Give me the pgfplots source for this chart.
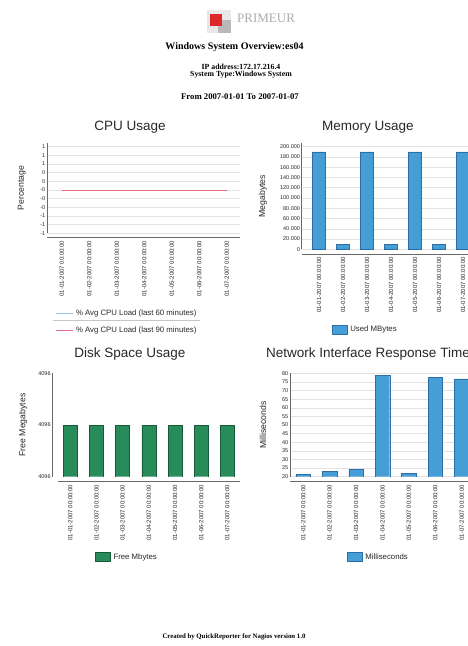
\documentclass[border=0pt]{standalone}
\usepackage{pgfplots}
\pgfplotsset{compat=1.18}
\usepackage{fontspec}
\setmainfont{Liberation Serif}
\newfontfamily\arial{Liberation Sans}
\newcommand{\fs}[1]{\fontsize{#1bp}{#1bp}\selectfont}
\definecolor{barblue}{RGB}{70,158,214}
\definecolor{barblueedge}{RGB}{45,110,165}
\definecolor{bargreen}{RGB}{40,140,90}
\definecolor{bargreenedge}{RGB}{22,90,55}
\definecolor{cpured}{RGB}{232,112,132}
\definecolor{cpublue}{RGB}{150,198,228}
\definecolor{gridgray}{RGB}{226,226,226}
\definecolor{axisgray}{RGB}{105,105,105}
\definecolor{txt}{RGB}{40,40,40}
\definecolor{logored}{RGB}{220,40,40}

\pgfplotsset{
  rep/.style={
    scale only axis, anchor=north west, clip=true,
    axis x line*=bottom, axis y line*=left,
    axis line style={draw=axisgray, line width=0.6bp},
    major tick length=0pt,
    /pgf/number format/assume math mode=true,
    xtick={0,1,2,3,4,5,6},
    xticklabels={01-01-2007 00:00:00,01-02-2007 00:00:00,01-03-2007 00:00:00,01-04-2007 00:00:00,01-05-2007 00:00:00,01-06-2007 00:00:00,01-07-2007 00:00:00},
    xticklabel style={rotate=90, anchor=east, font=\arial\fs{6}, inner xsep=3bp, inner ysep=0pt, text=txt},
    yticklabel style={font=\arial\fs{5.5}, inner sep=1.5bp, text=txt},
    every axis y label/.style={rotate=90, anchor=center, font=\arial\fs{8.7}, text=txt},
    grid style={draw=gridgray, line width=0.5bp},
    legend cell align=left,
    legend style={draw=none, fill=none, inner sep=0pt, anchor=west, font=\arial\fs{7.8}, text=txt,
       nodes={inner sep=1bp, text height=5.5bp, text depth=1.5bp}, row sep=8bp, column sep=2bp},
  },
  barleg/.style={legend image code/.code={\draw[##1] (0bp,-4.5bp) rectangle (15bp,4.5bp);}},
  lineleg/.style={legend image code/.code={\draw[##1] (0bp,0bp) -- (17bp,0bp);}},
}

\begin{document}
\begin{tikzpicture}
\useasboundingbox (0bp,0bp) rectangle (468bp,-646bp);
\clip (0bp,0bp) rectangle (468bp,-646bp);
\fill[white] (0bp,0bp) rectangle (468bp,-646bp);

% logo
\fill[gray!18] (207bp,-10bp) rectangle (231bp,-33bp);
\fill[gray!55] (218bp,-20bp) rectangle (231bp,-33bp);
\fill[logored] (210bp,-14bp) rectangle (222bp,-26bp);
\node[anchor=west, font=\fs{13}, text=gray!65, inner sep=0pt] at (237bp,-18.5bp) {PRIMEUR};

% header
\node[font=\bfseries\fs{10}, text=black] at (234.5bp,-47bp) {Windows System Overview:es04};
\node[font=\bfseries\fs{7.8}, text=black] at (241bp,-67bp) {IP address:172.17.216.4};
\node[font=\bfseries\fs{7.8}, text=black] at (241bp,-75bp) {System Type:Windows System};
\node[font=\bfseries\fs{8.7}, text=black] at (240bp,-97bp) {From 2007-01-01 To 2007-01-07};

% chart titles
\node[font=\arial\fs{13.5}, text=txt] at (130bp,-127bp) {CPU Usage};
\node[font=\arial\fs{13.5}, text=txt] at (368bp,-127bp) {Memory Usage};
\node[font=\arial\fs{13.5}, text=txt] at (130bp,-354bp) {Disk Space Usage};
\node[font=\arial\fs{13.5}, text=txt, anchor=west, inner sep=0pt] at (266bp,-354bp) {Network Interface Response Time};

% CPU legend separator
\draw[gray!45, line width=0.6bp] (53bp,-320.7bp) -- (200bp,-320.7bp);

% CPU Usage
\begin{axis}[rep, at={(47bp,-143.2bp)}, width=193bp, height=90.1bp,
  xmin=-0.535, xmax=6.48, ymin=-1, ymax=1.08,
  ytick={-1,-0.8,-0.6,-0.4,-0.2,0,0.2,0.4,0.6,0.8,1},
  yticklabels={-1,-1,-1,-0,-0,-0,0,0,1,1,1},
  ymajorgrids, axis x line shift=4.4bp,
  ylabel={Percentage}, ylabel style={at={(axis description cs:-0.13,0.5)}},
  legend style={at={(axis description cs:0.0415,-0.979)}}]
\addplot[cpublue, line width=0.6bp, lineleg] coordinates {(0,0) (1,0) (2,0) (3,0) (4,0) (5,0) (6,0)};
\addlegendentry{\% Avg CPU Load (last 60 minutes)}
\addplot[cpured, line width=0.8bp, lineleg] coordinates {(0,0) (1,0) (2,0) (3,0) (4,0) (5,0) (6,0)};
\addlegendentry{\% Avg CPU Load (last 90 minutes)}
\end{axis}

% Memory Usage
\begin{axis}[rep, at={(301.7bp,-143.3bp)}, width=178.6bp, height=106bp,
  xmin=-0.72, xmax=6.72, ymin=0, ymax=206600,
  ytick={0,20000,40000,60000,80000,100000,120000,140000,160000,180000,200000},
  yticklabels={0,20.000,40.000,60.000,80.000,100.000,120.000,140.000,160.000,180.000,200.000},
  scaled y ticks=false, ymajorgrids, axis x line shift=4.7bp,
  ybar, bar width=13bp,
  ylabel={Megabytes}, ylabel style={at={(axis description cs:-0.217,0.5)}},
  legend style={at={(axis description cs:0.168,-0.761)}}]
\addplot[fill=barblue, draw=barblueedge, line width=0.4bp, barleg] coordinates {(0,190000) (1,10000) (2,190000) (3,10000) (4,190000) (5,10000) (6,190000)};
\addlegendentry{Used MBytes}
\end{axis}

% Disk Space Usage
\begin{axis}[rep, at={(58bp,-373.3bp)}, width=182bp, height=103.4bp,
  xmin=-0.47, xmax=6.48, ymin=0, ymax=1,
  y filter/.expression={y-4095.5},
  ytick={0,0.5,1}, yticklabels={4096,4096,4096},
  axis x line shift=5bp, axis y line shift=5.7bp,
  ybar, bar width=14bp,
  ylabel={Free Megabytes}, ylabel style={at={(axis description cs:-0.192,0.5)}},
  legend style={at={(axis description cs:0.203,-0.777)}}]
\addplot[fill=bargreen, draw=bargreenedge, line width=0.4bp, barleg] coordinates {(0,4096) (1,4096) (2,4096) (3,4096) (4,4096) (5,4096) (6,4096)};
\addlegendentry{Free Mbytes}
\end{axis}

% Network Interface Response Time
\begin{axis}[rep, at={(290bp,-373.3bp)}, width=184.9bp, height=103.4bp,
  xmin=-0.5, xmax=6.5, ymin=20, ymax=80, ytick={20,25,...,80}, ymajorgrids,
  axis x line shift=5bp, ybar, bar width=14.5bp,
  ylabel={Milliseconds}, ylabel style={at={(axis description cs:-0.146,0.5)}},
  legend style={at={(axis description cs:0.307,-0.777)}}]
\addplot[fill=barblue, draw=barblueedge, line width=0.4bp, barleg] coordinates {(0,21.2) (1,23.3) (2,24.3) (3,78.8) (4,22.1) (5,77.8) (6,76.8)};
\addlegendentry{Milliseconds}
\end{axis}

% footer
\node[font=\bfseries\fs{6.8}, text=black] at (234bp,-637bp) {Created by QuickReporter for Nagios version 1.0};
\end{tikzpicture}
\end{document}
